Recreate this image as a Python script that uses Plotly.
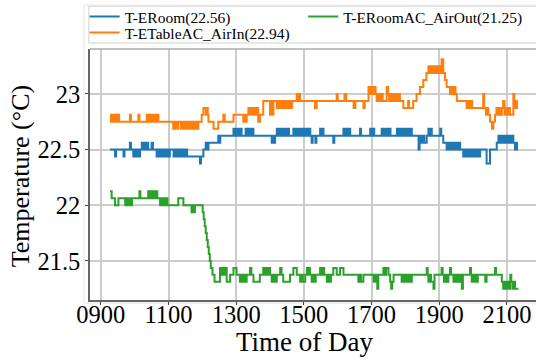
import plotly.graph_objects as go

# ---------------- data ----------------
eroom_t = [927, 942, 945, 967, 970, 986, 989, 996, 999, 1005, 1008, 1013, 1016,
           1021, 1024, 1026, 1029, 1031, 1034, 1036, 1040, 1050, 1054,
           1065, 1068, 1071, 1075, 1079, 1082, 1086, 1089, 1093, 1097, 1100, 1104,
           1115, 1119, 1123, 1127, 1131, 1135, 1139, 1143, 1147, 1151, 1155,
           1193, 1196, 1203, 1210, 1213, 1218, 1247, 1250, 1253,
           1292, 1295, 1298, 1302, 1306, 1310, 1313, 1316, 1328, 1331, 1334, 1338, 1341, 1345, 1348, 1351,
           1405, 1408, 1412, 1415,
           1420, 1424, 1428, 1432, 1436, 1440, 1444, 1448, 1452, 1456,
           1469, 1473, 1477, 1481, 1485, 1489, 1493, 1497, 1501, 1505, 1509, 1513, 1516, 1519,
           1523, 1526, 1534, 1537, 1548, 1551, 1554, 1558, 1587, 1590,
           1617, 1621, 1625, 1629, 1633, 1637, 1666, 1669,
           1696, 1700, 1704, 1708, 1712,
           1730, 1734, 1738, 1742, 1746, 1750, 1753, 1756,
           1775, 1779, 1783, 1787, 1791, 1795, 1799, 1803, 1807, 1811, 1815, 1819,
           1839, 1842, 1848, 1852, 1856, 1863, 1868, 1872, 1875, 1878,
           1903, 1906, 1912,
           1922, 1926, 1930, 1934, 1938, 1942, 1946, 1950, 1954, 1958, 1962,
           1971, 1975, 1979, 1983, 1987, 1991, 1995, 1999, 2003, 2007, 2011, 2015, 2018, 2021,
           2040, 2050, 2070,
           2075, 2079, 2083, 2087, 2091, 2095, 2099, 2103, 2107, 2111, 2115, 2119,
           2124, 2130, 2132]
eroom_v = [22.5, 22.4375, 22.5, 22.4375, 22.5, 22.5625, 22.5, 22.4375, 22.5, 22.4375, 22.5, 22.4375, 22.5,
           22.5625, 22.5, 22.5625, 22.5, 22.5625, 22.5, 22.5625, 22.5, 22.5625, 22.5,
           22.4375, 22.5, 22.4375, 22.5, 22.4375, 22.5, 22.4375, 22.5, 22.4375, 22.5, 22.4375, 22.5,
           22.4375, 22.5, 22.4375, 22.5, 22.4375, 22.5, 22.4375, 22.5, 22.4375, 22.5, 22.4375,
           22.375, 22.4375, 22.5, 22.5625, 22.5, 22.5625, 22.625, 22.5625, 22.625,
           22.6875, 22.625, 22.6875, 22.625, 22.6875, 22.625, 22.6875, 22.625, 22.6875, 22.625, 22.6875, 22.625, 22.6875, 22.625, 22.6875, 22.625,
           22.5625, 22.625, 22.5625, 22.625,
           22.6875, 22.625, 22.6875, 22.625, 22.6875, 22.625, 22.6875, 22.625, 22.6875, 22.625,
           22.6875, 22.625, 22.6875, 22.625, 22.6875, 22.625, 22.6875, 22.625, 22.6875, 22.625, 22.6875, 22.625, 22.6875, 22.625,
           22.5625, 22.625, 22.5625, 22.625, 22.6875, 22.625, 22.6875, 22.625, 22.5625, 22.625,
           22.6875, 22.625, 22.6875, 22.625, 22.6875, 22.625, 22.6875, 22.625,
           22.6875, 22.625, 22.6875, 22.625, 22.625,
           22.6875, 22.625, 22.6875, 22.625, 22.6875, 22.625, 22.6875, 22.625,
           22.6875, 22.625, 22.6875, 22.625, 22.6875, 22.625, 22.6875, 22.625, 22.6875, 22.625, 22.6875, 22.625,
           22.5, 22.625, 22.5625, 22.625, 22.5625, 22.625, 22.6875, 22.625, 22.6875, 22.625,
           22.6875, 22.625, 22.5625,
           22.5, 22.5625, 22.5, 22.5625, 22.5, 22.5625, 22.5, 22.5625, 22.5, 22.5625, 22.5,
           22.4375, 22.5, 22.4375, 22.5, 22.4375, 22.5, 22.4375, 22.5, 22.4375, 22.5, 22.4375, 22.5, 22.4375, 22.5,
           22.375, 22.5, 22.5625,
           22.625, 22.5625, 22.625, 22.5625, 22.625, 22.5625, 22.625, 22.5625, 22.625, 22.5625, 22.625, 22.5625,
           22.5, 22.5625, 22.5625]

airin_t = [927, 930, 933, 936, 939, 942, 945, 948, 951, 954, 986, 989, 1011, 1014,
           1036, 1039, 1042, 1045, 1048, 1051, 1054, 1057, 1060, 1063, 1066, 1070,
           1114, 1117, 1120, 1123, 1126, 1129, 1137, 1140, 1145, 1148, 1152, 1155, 1160, 1163,
           1168, 1172, 1176, 1180, 1184, 1188,
           1198, 1203, 1210, 1213, 1216, 1218, 1233, 1247, 1262, 1266, 1292,
           1321, 1324, 1328, 1331, 1336, 1340, 1344, 1348, 1352, 1356, 1360, 1365, 1370, 1380,
           1400, 1403, 1407, 1410,
           1420, 1424, 1428, 1432, 1436, 1440, 1444, 1448, 1452, 1456, 1460, 1465,
           1479, 1482, 1485, 1489, 1533, 1538, 1597, 1600, 1620, 1625, 1647, 1652, 1676, 1680,
           1691, 1694, 1697, 1700, 1703, 1706, 1709, 1712, 1715, 1718, 1721, 1724, 1727, 1730, 1733,
           1745, 1749, 1752, 1756, 1760, 1764, 1768, 1772, 1776, 1780, 1784,
           1794, 1808, 1811, 1823, 1833, 1843, 1853, 1862,
           1868, 1872, 1876, 1880, 1884, 1888, 1892, 1896, 1900, 1902, 1907, 1912, 1917, 1922,
           1932, 1936, 1940, 1944, 1948, 1952,
           1981, 1985, 1989, 1993, 1997, 2001, 2030, 2033, 2038, 2042, 2045, 2050, 2056, 2060,
           2065, 2069, 2073, 2077, 2081, 2085, 2089, 2093, 2097, 2101, 2105, 2109,
           2119, 2122, 2125, 2130, 2132]
airin_v = [22.8125, 22.75, 22.8125, 22.75, 22.8125, 22.75, 22.8125, 22.75, 22.8125, 22.75, 22.8125, 22.75, 22.8125, 22.75,
           22.8125, 22.75, 22.8125, 22.75, 22.8125, 22.75, 22.8125, 22.75, 22.8125, 22.75, 22.8125, 22.75,
           22.6875, 22.75, 22.6875, 22.75, 22.6875, 22.75, 22.6875, 22.75, 22.6875, 22.75, 22.6875, 22.75, 22.6875, 22.75,
           22.6875, 22.75, 22.6875, 22.75, 22.6875, 22.75,
           22.8125, 22.875, 22.8125, 22.875, 22.8125, 22.75, 22.6875, 22.75, 22.8125, 22.75, 22.8125,
           22.75, 22.8125, 22.75, 22.8125, 22.875, 22.8125, 22.875, 22.8125, 22.875, 22.8125, 22.875, 22.75, 22.8125, 22.9375,
           22.8125, 22.9375, 22.8125, 22.9375,
           22.875, 22.9375, 22.875, 22.9375, 22.875, 22.9375, 22.875, 22.9375, 22.875, 22.9375, 22.875, 22.9375,
           23.0, 22.9375, 23.0, 22.9375, 22.875, 22.9375, 23.0, 22.9375, 23.0, 22.9375, 22.875, 22.9375, 22.875, 22.9375,
           23.0625, 23.0, 23.0625, 23.0, 23.0625, 23.0, 23.0625, 23.0, 22.9375, 23.0, 22.9375, 23.0, 22.9375, 23.0, 22.9375,
           23.0625, 23.0, 22.9375, 23.0, 22.9375, 23.0, 22.9375, 23.0, 22.9375, 23.0, 22.9375,
           22.875, 22.9375, 22.875, 22.9375, 23.0, 23.0625, 23.125, 23.1875,
           23.25, 23.1875, 23.25, 23.1875, 23.25, 23.1875, 23.25, 23.1875, 23.25, 23.1875, 23.3125, 23.1875, 23.125, 23.0625,
           23.0, 23.0625, 23.0, 23.0625, 23.0, 22.9375,
           22.875, 22.9375, 22.875, 22.9375, 22.875, 22.875, 23.0, 22.875, 22.8125, 22.875, 22.8125, 22.75, 22.6875, 22.75,
           22.8125, 22.875, 22.8125, 22.875, 22.8125, 22.875, 22.9375, 22.8125, 22.875, 22.8125, 22.875, 22.8125,
           23.0, 22.9375, 22.875, 22.9375, 22.9375]

airout_t = [927, 932, 942, 952, 972, 975, 978, 981, 984, 987, 990, 992, 1014, 1017,
            1040, 1043, 1046, 1049, 1052, 1055, 1058, 1061, 1064, 1067, 1070,
            1075, 1078, 1081, 1085, 1090, 1093, 1097, 1129, 1144, 1168, 1172, 1175, 1178,
            1201, 1204, 1207, 1210, 1213, 1216, 1219, 1222, 1225, 1230, 1236,
            1252, 1256, 1260, 1264, 1268, 1272, 1282, 1292, 1301,
            1311, 1315, 1319, 1323, 1327, 1331, 1341, 1345, 1351,
            1370, 1380, 1384, 1388, 1392, 1395, 1400, 1405, 1410, 1415, 1420,
            1430, 1434, 1439, 1459, 1469, 1479,
            1489, 1493, 1497, 1504, 1509, 1512, 1515, 1518, 1523, 1527, 1531, 1535,
            1548, 1552, 1556, 1560, 1568, 1572, 1576, 1580, 1587, 1597, 1607, 1617,
            1661, 1665, 1669, 1676, 1706, 1710, 1714, 1717, 1720,
            1735, 1739, 1743, 1750, 1755, 1758, 1761, 1765,
            1789, 1793, 1797, 1801, 1805, 1810, 1814, 1819,
            1863, 1866, 1868, 1872, 1876, 1883, 1886,
            1907, 1910, 1914, 1918, 1922, 1927, 1932, 1935,
            1942, 1946, 1950, 1954, 1958, 1962, 1967, 1970,
            1991, 1994, 1996, 2000, 2003, 2007, 2010, 2014, 2036, 2040, 2065, 2068,
            2085, 2089, 2093, 2097, 2101, 2105, 2110, 2113, 2117, 2120, 2124, 2134]
airout_v = [22.125, 22.0625, 22.0, 22.0625, 22.0, 22.0625, 22.0, 22.0625, 22.0, 22.0625, 22.0, 22.0625, 22.125, 22.0625,
            22.125, 22.0625, 22.125, 22.0625, 22.125, 22.0625, 22.125, 22.0625, 22.125, 22.0625, 22.0625,
            22.0, 22.0625, 22.0, 22.0625, 22.0, 22.0625, 22.0, 22.0625, 22.0, 21.9375, 22.0, 21.9375, 22.0,
            21.9375, 21.875, 21.8125, 21.75, 21.6875, 21.625, 21.5625, 21.5, 21.4375, 21.375, 21.3125,
            21.4375, 21.375, 21.4375, 21.375, 21.4375, 21.3125, 21.375, 21.4375, 21.375,
            21.3125, 21.375, 21.3125, 21.375, 21.3125, 21.375, 21.4375, 21.375, 21.3125,
            21.375, 21.4375, 21.375, 21.4375, 21.375, 21.4375, 21.375, 21.3125, 21.375, 21.3125, 21.375,
            21.4375, 21.375, 21.3125, 21.375, 21.4375, 21.375,
            21.3125, 21.375, 21.3125, 21.375, 21.4375, 21.375, 21.4375, 21.375, 21.3125, 21.375, 21.3125, 21.375,
            21.4375, 21.375, 21.4375, 21.375, 21.3125, 21.375, 21.3125, 21.375, 21.4375, 21.375, 21.4375, 21.375,
            21.3125, 21.375, 21.3125, 21.375, 21.3125, 21.375, 21.3125, 21.25, 21.375,
            21.4375, 21.375, 21.4375, 21.375, 21.3125, 21.25, 21.3125, 21.375,
            21.3125, 21.375, 21.3125, 21.375, 21.3125, 21.375, 21.3125, 21.375,
            21.4375, 21.375, 21.3125, 21.375, 21.3125, 21.25, 21.375,
            21.4375, 21.375, 21.3125, 21.375, 21.3125, 21.375, 21.4375, 21.375,
            21.3125, 21.375, 21.3125, 21.375, 21.3125, 21.375, 21.25, 21.375,
            21.4375, 21.375, 21.3125, 21.375, 21.3125, 21.375, 21.3125, 21.375, 21.3125, 21.375, 21.4375, 21.375,
            21.3125, 21.25, 21.3125, 21.25, 21.3125, 21.25, 21.375, 21.3125, 21.25, 21.3125, 21.25, 21.25]

x_tickvals = [900, 1100, 1300, 1500, 1700, 1900, 2100]
x_ticktext = ["0900", "1100", "1300", "1500", "1700", "1900", "2100"]
y_tickvals = [21.5, 22, 22.5, 23]
y_ticktext = ["21.5", "22", "22.5", "23"]

names = ["T-ERoom(22.56)", "T-ETableAC_AirIn(22.94)", "T-ERoomAC_AirOut(21.25)"]
colors = ["#1f77b4", "#ff7f0e", "#2ca02c"]
legend_ids = ["legend", "legend3", "legend2"]

FONT = "Liberation Serif, Times New Roman, serif"

fig = go.Figure()
series = [(eroom_t, eroom_v), (airin_t, airin_v), (airout_t, airout_v)]
for (t, v), name, col, lg in zip(series, names, colors, legend_ids):
    fig.add_trace(go.Scatter(x=t, y=v, mode="lines", name=name, legend=lg,
                             line=dict(color=col, width=2, shape="hv")))

legend_font = dict(family=FONT, size=15.5, color="black")


def legend_box(x, y):
    return dict(orientation="v", x=x, xanchor="left", y=y, yanchor="middle",
                font=legend_font, bgcolor="rgba(0,0,0,0)", borderwidth=0,
                tracegroupgap=0, itemwidth=30)


fig.update_layout(
    width=536, height=360,
    margin=dict(l=90, r=0, t=48, b=60),
    paper_bgcolor="white", plot_bgcolor="white",
    font=dict(family=FONT, color="black"),
    showlegend=True,
    legend=legend_box(-0.012, 1.127),
    legend2=legend_box(0.478, 1.127),
    legend3=legend_box(-0.012, 1.060),
)
axis_common = dict(showgrid=True, gridcolor="#cccccc", gridwidth=1.5,
                   showline=True, linecolor="#666666", linewidth=1.5, mirror=False,
                   ticks="outside", ticklen=3, tickcolor="#444444", tickwidth=1,
                   tickfont=dict(family=FONT, size=24.5, color="black"), zeroline=False)
fig.update_xaxes(range=[868, 2186], tickvals=x_tickvals, ticktext=x_ticktext,
                 ticklabelstandoff=-11, **axis_common)
fig.update_yaxes(range=[21.149, 23.404], tickvals=y_tickvals, ticktext=y_ticktext, **axis_common)

# legend frame
fig.add_shape(type="rect", xref="paper", yref="paper", x0=-0.0025, x1=1.02, y0=1.0238, y1=1.1706,
              line=dict(color="#d0d0d0", width=1), fillcolor="white", layer="below")
# top frame line of the axes
fig.add_shape(type="line", xref="paper", yref="paper", x0=0, x1=1.01, y0=1, y1=1,
              line=dict(color="#aaaaaa", width=1.5))
# faint outer frame
fig.add_shape(type="rect", xref="paper", yref="paper", x0=-0.0135, x1=1.05, y0=-0.012, y1=1.1746,
              line=dict(color="#e4e4e4", width=1), layer="below")

fig.add_annotation(text="Time of Day", xref="paper", yref="paper", x=0.482, y=-0.168,
                   showarrow=False, font=dict(family=FONT, size=27, color="black"),
                   xanchor="center", yanchor="middle")
fig.add_annotation(text="Temperature (°C)", xref="paper", yref="paper", x=-0.155, y=0.496,
                   showarrow=False, textangle=-90, font=dict(family=FONT, size=26, color="black"),
                   xanchor="center", yanchor="middle")

fig.write_html("out.html")
